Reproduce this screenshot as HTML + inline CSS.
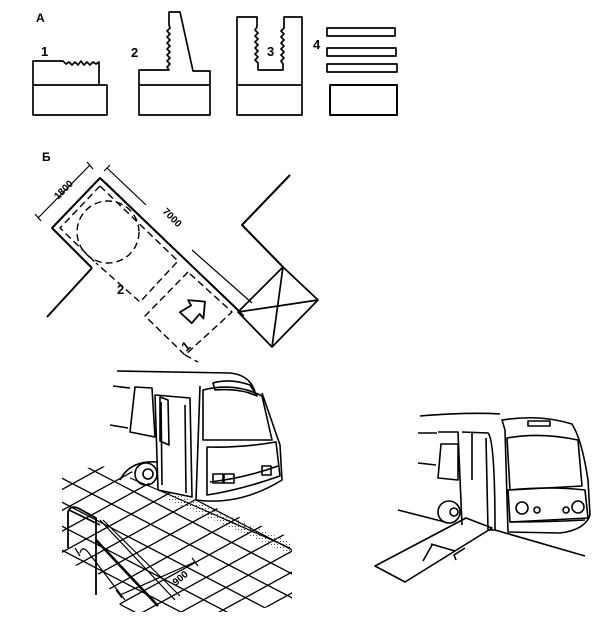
<!DOCTYPE html>
<html><head><meta charset="utf-8"><style>
html,body{margin:0;padding:0;background:#fff;width:610px;height:622px;overflow:hidden}
svg{display:block}
text{font-family:"Liberation Sans",sans-serif;font-weight:bold;fill:#000}
</style></head><body>
<svg id="s" width="610" height="622" viewBox="0 0 610 622" xmlns="http://www.w3.org/2000/svg" fill="none" stroke="#000" stroke-width="1.7" stroke-linejoin="round">
<defs>
<pattern id="dots" width="3" height="3" patternUnits="userSpaceOnUse"><rect x="1" y="1" width="1" height="1" fill="#555" stroke="none"/></pattern>
<clipPath id="pav"><polygon points="62,472 100,466 130,470 156,488 196,500 292,538 292,603 240,612 125,612 100,575 62,560"/></clipPath>
</defs>
<!-- A -->
<text x="36" y="22" font-size="12" stroke="none">A</text>
<text x="41" y="56" font-size="13" stroke="none">1</text>
<path d="M33,85 V61 H63 l3,3 3,-2 3,3 3,-3 3,3 3,-4 3,4 3,-3 3,3 3,-3 3,2 3,-2 V85"/>
<rect x="33" y="85" width="74" height="30"/>
<text x="131" y="57" font-size="13" stroke="none">2</text>
<path d="M139,85 V70 H169 l-2,-3 3,-3 -3,-3 3,-3 -3,-3 3,-3 -3,-3 3,-3 -3,-3 3,-3 -3,-3 3,-3 -3,-3 3,-3 -1,-3 V12 H180 L193,71 H210 V85"/>
<rect x="139" y="85" width="71" height="30"/>
<text x="313" y="49" font-size="13" stroke="none">4</text>
<text x="267" y="56" font-size="13" stroke="none">3</text>
<path d="M237,115 V17 H257 V27 l-2,3 3,3 -3,3 3,3 -3,3 3,3 -3,3 3,3 -3,3 3,3 -3,3 3,3 V70 H283 V64 l-2,-3 3,-3 -3,-3 3,-3 -3,-3 3,-3 -3,-3 3,-3 -3,-3 3,-3 -3,-3 3,-3 V17 H302 V115 Z M237,85 H302"/>
<rect x="327" y="28" width="68" height="8"/>
<rect x="327" y="48" width="69" height="8"/>
<rect x="327" y="64" width="70" height="8"/>
<rect x="330" y="85" width="67" height="30" stroke-width="2"/>
<!-- B -->
<text x="42" y="161" font-size="12" stroke="none">Б</text>
<g stroke-width="2">
<path d="M92,268 L52,228 L100,178 L240,312"/>
<path d="M92,268 L47,317"/>
<path d="M290,175 L242,225 L283,267"/>
</g>
<path d="M106,183 L244,316" stroke-width="1.4"/>
<polygon points="283,267 318,300 272,347 238,312"/>
<path d="M283,267 L272,347 M238,312 L318,300"/>
<path d="M38,218 L90,165 M35,214 l6,7 M87,162 l6,7" stroke-width="1.2"/>
<text x="0" y="0" font-size="10" font-weight="normal" stroke="none" transform="translate(58,200) rotate(-45)">1800</text>
<path d="M107,168 L146,205 M192,250 L252,303 M104,171 l6,-6" stroke-width="1.2"/>
<text x="0" y="0" font-size="10" font-weight="normal" stroke="none" transform="translate(162,212) rotate(45)">7000</text>
<g stroke-dasharray="7,4" stroke-width="1.4">
<circle cx="108" cy="232" r="31"/>
<path d="M100,186 L60,228 L96,263 M100,186 L178,261 L140,302 L96,263"/>
<path d="M188,272 L145,316 L185,355 L232,312 Z M185,355 L198,362"/>
</g>
<text x="117" y="294" font-size="13" stroke="none">2</text>
<text x="0" y="0" font-size="13" stroke="none" transform="translate(186,352) rotate(-40)">1</text>
<path d="M182,302 L195,304 L196,298 L208,310 L196,322 L196,316 L184,318 Z" transform="rotate(-40 195 310)" stroke-width="1.8"/>
<!-- left bus -->
<g stroke-width="1.6">
<path d="M117,371 L230,373 Q250,375 255,392"/>
<path d="M213,383 Q230,378 250,385 L257,396 Q240,388 215,390 Z"/>
<path d="M203,390 Q235,382 262,396 L272,440 L203,440 Z"/>
<path d="M200,386 L196,500 Q240,506 282,480 L280,445 L262,393"/>
<path d="M207,447 Q240,448 276,442 L280,476 Q240,490 207,495 Z"/>
<path d="M210,482 Q245,478 278,466"/>
<rect x="213" y="474" width="10" height="9"/><rect x="224" y="474" width="10" height="9"/>
<rect x="262" y="466" width="9" height="9"/>
<path d="M155,395 L190,398 L192,497 L158,490 Z M161,402 L162,485 M185,405 L186,493"/>
<path d="M160,397 L168,400 L169,445 L160,441 Z"/>
<path d="M135,387 L152,388 L155,437 L130,432 Z M113,386 L130,388 M110,425 L128,428"/>
<circle cx="146" cy="474" r="11"/><circle cx="148" cy="474" r="5"/>
<path d="M120,480 Q130,460 158,462"/>
</g>
<g id="grid" clip-path="url(#pav)" stroke-width="1.3"></g>
<polygon points="172,492 290,542 290,554 168,500" fill="url(#dots)" stroke="none"/>
<path d="M130,478 L170,495 L290,548" stroke-width="1.2"/>
<g stroke-width="1.8">
<path d="M68,548 L68,512 Q70,505 78,508 L96,518 L96,595"/>
<path d="M69,510 L100,525"/>
<path d="M96,540 L158,606" stroke-width="2.6"/>
<path d="M100,520 L175,600 M103,520 L180,596" stroke-width="1.2"/>
<path d="M75,548 L80,556 M80,553 Q82,545 88,552 L125,600" stroke-width="1.2"/>
<path d="M120,595 L195,562 M116,590 l6,8 M192,558 l6,8" stroke-width="1.2"/>
</g>
<text x="0" y="0" font-size="10" font-weight="normal" stroke="none" transform="translate(176,586) rotate(-40)">900</text>
<!-- right bus -->
<g stroke-width="1.6">
<path d="M420,416 Q470,412 500,414"/>
<path d="M502,420 Q540,414 572,424 Q582,440 588,480 L590,515 Q585,530 560,533 L508,532 L505,430 Z"/>
<path d="M507,438 Q540,432 578,440 L582,486 L510,490 Z"/>
<path d="M508,490 Q550,486 585,490 L588,518 L510,522 Z"/>
<path d="M510,522 Q550,522 585,520"/>
<rect x="528" y="421" width="22" height="5"/>
<circle cx="522" cy="508" r="6"/><circle cx="537" cy="510" r="3"/>
<circle cx="578" cy="507" r="6"/><circle cx="566" cy="510" r="3"/>
<path d="M438,432 L458,432 L462,525 M441,444 L458,444 L458,480 L438,478 Z"/>
<path d="M462,432 L488,433 Q495,440 495,530 L488,530 L486,438 M472,433 L472,480"/>
<path d="M418,433 L437,433 M418,463 L436,465"/>
<circle cx="449" cy="512" r="11"/><circle cx="454" cy="512" r="4"/>
<path d="M398,510 L445,522 M495,530 L585,556"/>
<polygon points="466,518 492,528 405,582 375,566"/>
<path d="M431,544 L455,551 M432,545 L423,561"/>
<path d="M465,548 L454,555 L456,560"/>
</g>
</svg>
<script>
(function(){var g=document.getElementById('grid');var ns='http://www.w3.org/2000/svg';
function L(x1,y1,x2,y2){var l=document.createElementNS(ns,'line');l.setAttribute('x1',x1);l.setAttribute('y1',y1);l.setAttribute('x2',x2);l.setAttribute('y2',y2);g.appendChild(l);}
for(var i=-12;i<10;i++){var y=470+i*24;L(0,y,400,y+208);}
for(var j=-5;j<25;j++){var x=j*38;L(x,440,x-320,440+176);}
})();
</script>
</body></html>
